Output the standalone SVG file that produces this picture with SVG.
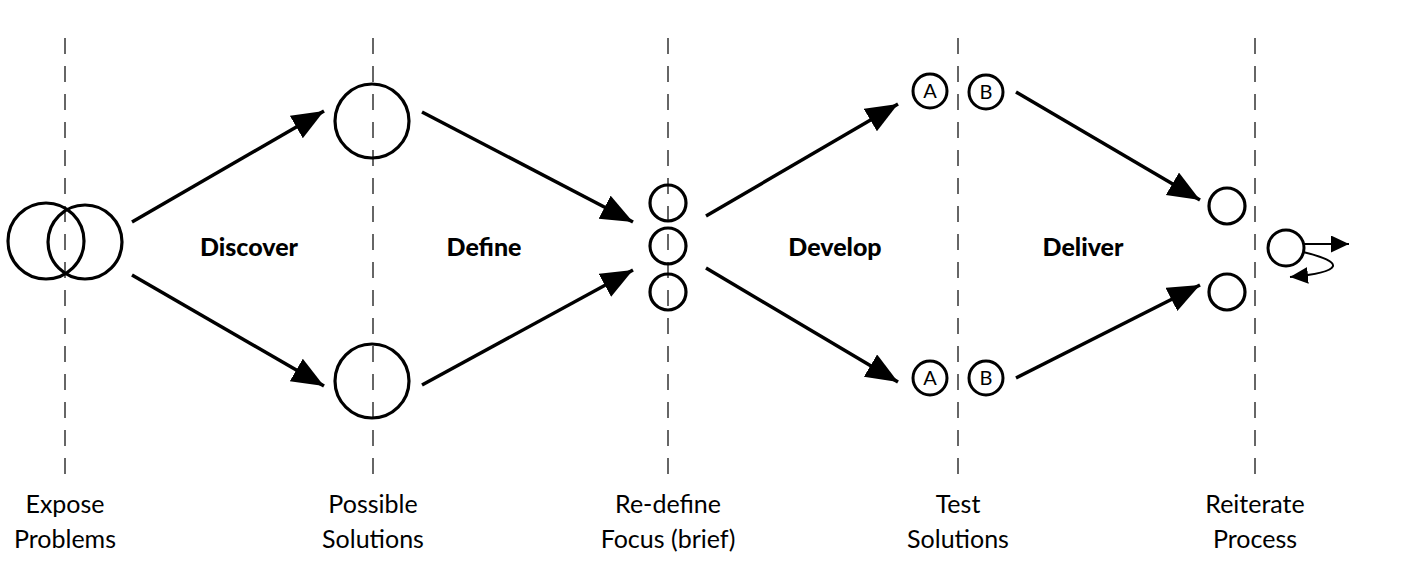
<svg xmlns="http://www.w3.org/2000/svg" width="1412" height="584" viewBox="0 0 1412 584">
<style>
.guide{stroke:#666;stroke-width:2;stroke-dasharray:16 12;fill:none}
.node{fill:#fff;stroke:#000;stroke-width:3}
.nodeo{fill:none;stroke:#000;stroke-width:3.2}
.arr{stroke:#000;stroke-width:3.5;fill:none;marker-end:url(#ah)}
.sarr{stroke:#000;stroke-width:2;fill:none;marker-end:url(#sh)}
.phase{font-family:Lato,"Open Sans",sans-serif;font-weight:900;font-size:25px;text-anchor:middle;fill:#000}
.lbl{font-family:Lato,"Open Sans",sans-serif;font-size:25px;text-anchor:middle;fill:#000}
.ab{font-family:Lato,"Open Sans",sans-serif;font-size:20px;text-anchor:middle;fill:#000}
</style>
<defs>
<marker id="ah" markerUnits="userSpaceOnUse" markerWidth="34" markerHeight="28" refX="32" refY="13" orient="auto">
<path d="M0,0 L32,13 L0,26 z" fill="#000"/>
</marker>
<marker id="sh" markerUnits="userSpaceOnUse" markerWidth="20" markerHeight="18" refX="18" refY="8.5" orient="auto">
<path d="M0,0 L18,8.5 L0,17 z" fill="#000"/>
</marker>
</defs>
<g id="guides">
<line class="guide" x1="65" y1="38" x2="65" y2="474"/>
<line class="guide" x1="373" y1="38" x2="373" y2="474"/>
<line class="guide" x1="668" y1="38" x2="668" y2="474"/>
<line class="guide" x1="958" y1="38" x2="958" y2="474"/>
<line class="guide" x1="1255" y1="38" x2="1255" y2="474"/>
</g>
<g id="connectors">
<line class="arr" x1="132" y1="222" x2="324" y2="111"/>
<line class="arr" x1="132" y1="275" x2="324" y2="386"/>
<line class="arr" x1="422" y1="112" x2="633" y2="222"/>
<line class="arr" x1="422" y1="385" x2="633" y2="270"/>
<line class="arr" x1="706" y1="216" x2="898" y2="104"/>
<line class="arr" x1="706" y1="268" x2="898" y2="382"/>
<line class="arr" x1="1016" y1="92" x2="1200" y2="200"/>
<line class="arr" x1="1016" y1="378" x2="1200" y2="285"/>
<line class="sarr" x1="1304" y1="244" x2="1349" y2="244"/>
<path class="sarr" d="M1303,252 C1345,262 1345,272 1290,277"/>
</g>
<g id="expose">
<circle class="nodeo" cx="46" cy="241" r="38"/>
<circle class="nodeo" cx="85" cy="242" r="37"/>
</g>
<g id="possible-top"><circle class="nodeo" cx="372" cy="121" r="37"/></g>
<g id="possible-bottom"><circle class="nodeo" cx="372" cy="381" r="37"/></g>
<g id="focus">
<circle class="nodeo" cx="668" cy="203" r="18"/>
<circle class="nodeo" cx="668" cy="246" r="18"/>
<circle class="nodeo" cx="668" cy="292" r="18"/>
</g>
<g id="test-top">
<circle class="node" cx="930" cy="91" r="17"/><text class="ab" x="930" y="98">A</text>
<circle class="node" cx="986" cy="92" r="17"/><text class="ab" x="986" y="99">B</text>
</g>
<g id="test-bottom">
<circle class="node" cx="930" cy="378" r="17"/><text class="ab" x="930" y="385">A</text>
<circle class="node" cx="986" cy="378" r="17"/><text class="ab" x="986" y="385">B</text>
</g>
<g id="deliver">
<circle class="nodeo" cx="1227" cy="206" r="18"/>
<circle class="nodeo" cx="1227" cy="292" r="18"/>
</g>
<g id="reiterate"><circle class="node" cx="1286" cy="248" r="18"/></g>
<g id="phases">
<text class="phase" x="249" y="256">Discover</text>
<text class="phase" x="484" y="256">Define</text>
<text class="phase" x="835" y="256">Develop</text>
<text class="phase" x="1083" y="256">Deliver</text>
</g>
<g id="labels">
<text class="lbl" x="65" y="513">Expose</text><text class="lbl" x="65" y="548">Problems</text>
<text class="lbl" x="373" y="513">Possible</text><text class="lbl" x="373" y="548">Solutions</text>
<text class="lbl" x="668" y="513">Re-define</text><text class="lbl" x="668" y="548">Focus (brief)</text>
<text class="lbl" x="958" y="513">Test</text><text class="lbl" x="958" y="548">Solutions</text>
<text class="lbl" x="1255" y="513">Reiterate</text><text class="lbl" x="1255" y="548">Process</text>
</g>
</svg>
